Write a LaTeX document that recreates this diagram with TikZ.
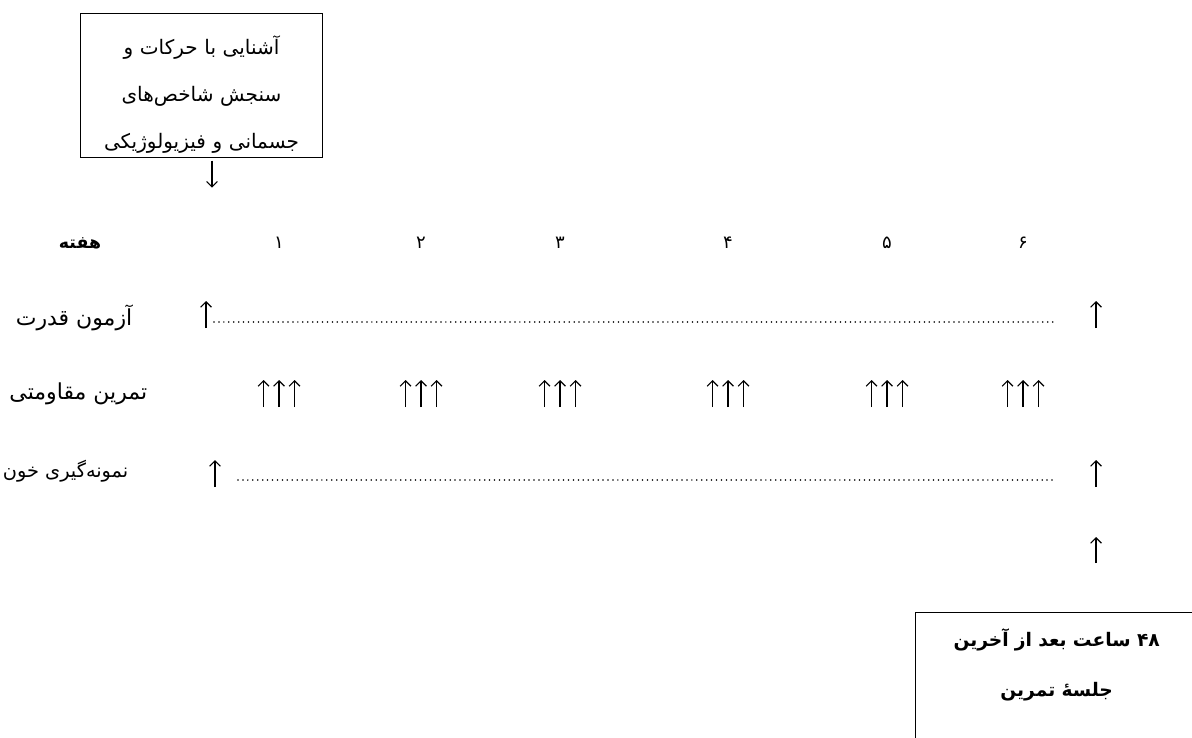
\documentclass[tikz,border=0pt]{standalone}
\usepackage{fontspec}
\newfontfamily\farsi[Script=Arabic]{DejaVu Sans}
\TeXXeTstate=1
\usetikzlibrary{arrows.meta}

\newcommand\rtl[1]{\beginR #1\endR}

\tikzset{
  txt/.style={font=\farsi\fontsize{16.5}{19}\selectfont},
  weektxt/.style={font=\farsi\fontsize{13.5}{16}\selectfont},
  rowlabel/.style={txt, anchor=east},
  box/.style={draw, line width=0.8pt, align=center},
  arr/.style={-{Straight Barb[length=4pt,width=8pt]}, line width=0.9pt},
  dots/.style={line width=1.3pt, line cap=round, dash pattern=on 0pt off 3.7pt},
}

\begin{document}
\begin{tikzpicture}[x=0.75pt, y=-0.75pt]
  \useasboundingbox (0,0) rectangle (1192,738);

  % intro box
  \node[box, anchor=north, minimum width=182pt, minimum height=108pt,
        text width=175pt, font=\farsi\fontsize{15}{35.25}\selectfont] (intro) at (201.5,13)
       {\rule{0pt}{27pt}\rtl{آشنایی با حرکات و}\\
        \rtl{سنجش شاخص‌های}\\
        \rtl{جسمانی و فیزیولوژیکی}};
  \coordinate (ax) at (212,0);
  \draw[arr] ([yshift=-2pt]intro.south -| ax) -- ++(0,27);

  % weeks
  \node[weektxt, font=\farsi\bfseries\fontsize{13}{16}\selectfont] (wk) at (80,243) {\rtl{هفته}};
  \foreach \x/\d [count=\i] in {279/۱, 421/۲, 560/۳, 728/۴, 887/۵, 1023/۶}
    \node[weektxt] (w\i) at (\x,243) {\d};

  % row labels
  \node[rowlabel] (power) at (137,318) {\rtl{آزمون قدرت}};
  \node[rowlabel] (train) at (152,394) {\rtl{تمرین مقاومتی}};
  \node[rowlabel, font=\farsi\fontsize{14.5}{17}\selectfont] (blood) at (133,471) {\rtl{نمونه‌گیری خون}};

  % power test
  \draw[arr] (206,328) -- (206,301);
  \draw[dots] (214,322) -- (1055,322);
  \draw[arr] (1096,328) -- (1096,301);

  % training sessions
  \foreach \i in {1,...,6}
    \foreach \dx in {-15.5,0,15.5}
      \draw[arr] ([xshift=\dx*0.75pt]w\i |- 0,407) -- ([xshift=\dx*0.75pt]w\i |- 0,380);

  % blood sampling
  \draw[arr] (215,487) -- (215,460);
  \draw[dots] (238,480) -- (1053,480);
  \draw[arr] (1096,487) -- (1096,460);
  \draw[arr] (1096,563) -- (1096,537);

  % final box
  \node[box, anchor=north west, minimum width=211.5pt, text width=205pt,
        inner ysep=12pt, text depth=70pt,
        font=\farsi\bfseries\fontsize{14}{37.5}\selectfont] (last) at (915,612)
       {\rtl{۴۸ ساعت بعد از آخرین}\\
        \rtl{جلسهٔ تمرین}};
\end{tikzpicture}
\end{document}
